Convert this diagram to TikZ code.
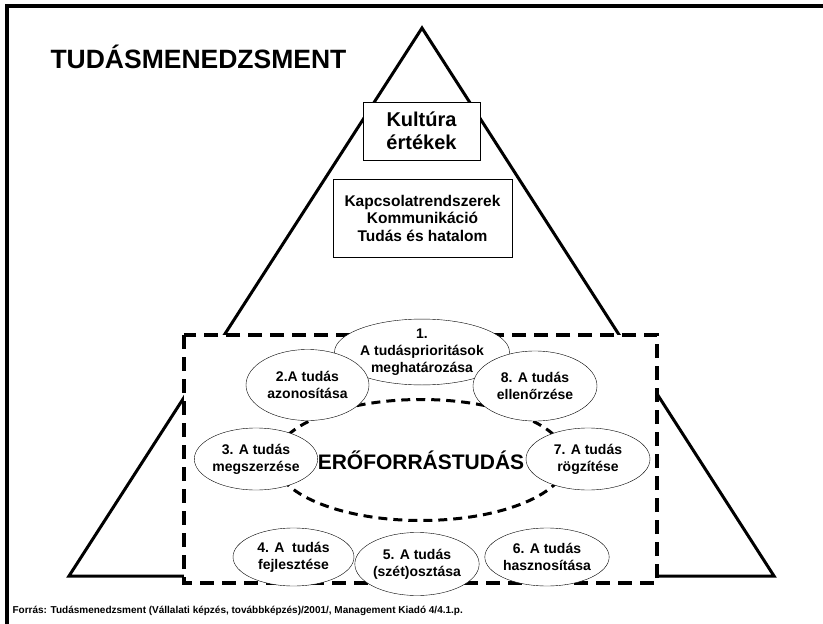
\documentclass[tikz,border=0pt]{standalone}
\usepackage{fontspec}
\setmainfont{Liberation Sans}
\usetikzlibrary{shapes.geometric}

\begin{document}
\begin{tikzpicture}[
                        x=1pt, y=-1pt,
                        phase/.style={ellipse, draw, thin, fill=white, inner sep=0pt, align=center,
                                      font=\fontsize{14}{17}\selectfont\bfseries},
                        infobox/.style={rectangle, draw, thin, fill=white, inner sep=0pt, align=center}
                    ]
                    \useasboundingbox (0,0) rectangle (823,624);

                    % Frame and pyramid
                    \draw [line width=3.5pt] (7,624) -- (7,6) -- (823,6);
                    \coordinate (apex) at (422,28);
                    \coordinate (baseL) at (69,576);
                    \coordinate (baseR) at (774,576);
                    \draw [line width=3pt, line join=miter] (baseL) -- (apex) -- (baseR) -- cycle;
                    \node [anchor=west, font=\fontsize{26.5}{30}\selectfont\bfseries] (title) at (47,57) {TUDÁSMENEDZSMENT};

                    % Boxes
                    \node [infobox, minimum width=117pt, minimum height=58pt, font=\fontsize{20}{23}\selectfont\bfseries] (kultura) at (421.5,131) {Kultúra\\értékek};
                    \node [infobox, minimum width=179pt, minimum height=78pt, font=\fontsize{15.5}{17.5}\selectfont\bfseries] (kapcs) at (422.5,218) {Kapcsolatrendszerek\\Kommunikáció\\Tudás és hatalom};

                    % Process area
                    \coordinate (areaNW) at (184,335);
                    \coordinate (areaSE) at (657,583);
                    \fill [white] (areaNW) rectangle (areaSE);
                    \draw [line width=4pt, dash pattern=on 14pt off 8pt] (areaNW) rectangle (areaSE);
                    \node [ellipse, draw, line width=3pt, dash pattern=on 9pt off 6pt, minimum width=208pt, minimum height=121pt, inner sep=0pt,
                           font=\fontsize{21}{24}\selectfont\bfseries] (core) at (421,460) {ERŐFORRÁSTUDÁS};

                    % Steps
                    \node [phase, minimum width=124pt, minimum height=62pt] (p1) at (422,352) {1.\\A tudásprioritások\\meghatározása};
                    \node [phase, minimum width=123pt, minimum height=71pt] (p2) at (307.5,385) {2.A tudás\\azonosítása};
                    \node [phase, minimum width=123pt, minimum height=62pt] (p3) at (256,459) {3. A tudás\\megszerzése};
                    \node [phase, minimum width=121pt, minimum height=58pt] (p4) at (293.5,557) {4. A\ \ tudás\\fejlesztése};
                    \node [phase, minimum width=116pt, minimum height=63pt] (p5) at (417,564) {5. A tudás\\(szét)osztása};
                    \node [phase, minimum width=124pt, minimum height=58pt] (p6) at (547,557) {6. A tudás\\hasznosítása};
                    \node [phase, minimum width=124pt, minimum height=62pt] (p7) at (588,459) {7. A tudás\\rögzítése};
                    \node [phase, minimum width=124pt, minimum height=70pt] (p8) at (535,386) {8. A tudás\\ellenőrzése};

                    % Source
                    \node [anchor=west, font=\fontsize{10}{12}\selectfont\bfseries] (source) at (9,611) {Forrás: Tudásmenedzsment (Vállalati képzés, továbbképzés)/2001/, Management Kiadó 4/4.1.p.};
                \end{tikzpicture}
\end{document}
